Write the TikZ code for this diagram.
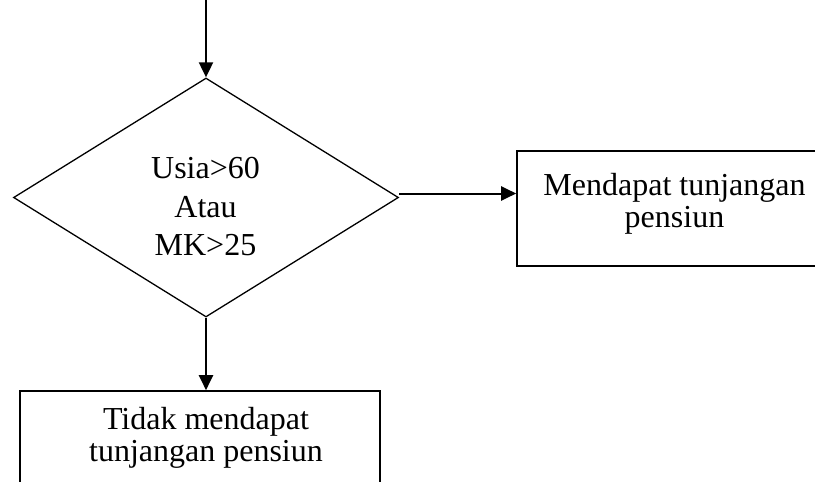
\documentclass[tikz,border=0pt]{standalone}
\usepackage{fontspec}
\setmainfont{Liberation Serif}
\usetikzlibrary{shapes.geometric,arrows.meta,calc}
\begin{document}
\begin{tikzpicture}[x=1pt,y=-1pt,
  lbl/.style={anchor=base,inner sep=0pt,font=\fontsize{32}{38}\selectfont},
  decision/.style={draw,diamond,line width=1.3pt,inner sep=0pt,
    minimum width=385pt,minimum height=239pt},
  procbox/.style={draw,rectangle,line width=1.6pt,inner sep=0pt},
  flow/.style={line width=2pt,-{Triangle[length=15pt,width=14pt]}}]
\useasboundingbox (0,0) rectangle (815,482);
\clip (0,0) rectangle (815,482);

% decision and the two outcomes
\node[decision] (dec) at (206,197.5) {};
\node[procbox,minimum width=315pt,minimum height=115pt] (yes) at (674.5,208.5) {};
\node[procbox,minimum width=360pt,minimum height=109pt] (no) at (200,445.5) {};

% texts
\node[lbl] (c1) at (205.5,178) {Usia>60};
\node[lbl] (c2) at (205.5,217) {Atau};
\node[lbl] (c3) at (205.5,255) {MK>25};
\node[lbl] (y1) at (674.5,195) {Mendapat tunjangan};
\node[lbl] (y2) at (674.5,227) {pensiun};
\node[lbl] (n1) at (206,429) {Tidak mendapat};
\node[lbl] (n2) at (206,461) {tunjangan pensiun};

% connectors
\coordinate (start) at ($(dec.north)+(0,-90)$);
\draw[flow] (start) -- (dec.north);
\coordinate (r0) at ($(dec.east)+(0,-4)$);
\draw[flow] (r0) -- (r0 -| yes.west);
\draw[flow] (dec.south) -- (dec.south |- no.north);
\end{tikzpicture}
\end{document}
